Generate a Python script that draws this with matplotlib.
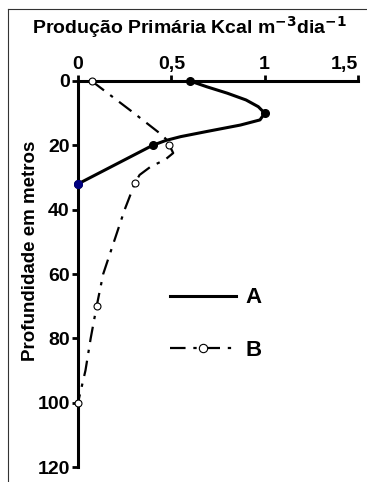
import matplotlib
matplotlib.use("Agg")
import matplotlib.pyplot as plt
from matplotlib.lines import Line2D

plt.rcParams['font.family'] = ['Liberation Sans', 'DejaVu Sans']
plt.rcParams['font.weight'] = 'bold'

a_prod = [0.60, 0.69, 0.80, 0.90, 0.966, 1.00, 0.975, 0.87, 0.69, 0.55, 0.47, 0.40, 0.0]
a_prof = [0, 1.8, 3.8, 5.9, 8.0, 10, 12.1, 13.7, 15.7, 17.3, 18.5, 20, 32]
a_marks = [0, 5, 11, 12]

# serie B
b_prod = [0.073, 0.30, 0.45, 0.475, 0.49, 0.51, 0.466, 0.39, 0.33, 0.305,
          0.27, 0.25, 0.135, 0.10, 0.068, 0.04, 0.0]
b_prof = [0, 10, 16.8, 18.3, 20, 22.4, 24.5, 26.6, 29.2, 31.7,
          37, 40, 60, 70, 80, 90, 100]
b_marks = [0, 4, 9, 13, 16]

xticks = [0, 0.5, 1, 1.5]
xticklabels = ['0', '0,5', '1', '1,5']
yticks = [0, 20, 40, 60, 80, 100, 120]

fig = plt.figure(figsize=(3.67, 4.82), dpi=100)
ax = fig.add_axes([0.2125, 0.031, 0.763, 0.801])

dash_b = (0, (7, 3.5, 1.5, 3.5))

ax.plot(a_prod, a_prof, color='black', lw=2.2, marker='o', markevery=a_marks,
        ms=5.5, mfc='black', mec='black', zorder=3, clip_on=False)
ax.plot([a_prod[-1]], [a_prof[-1]], 'o', ms=5.5, color='#000080', zorder=4, clip_on=False)
ax.plot(b_prod, b_prof, color='black', lw=1.6, linestyle=dash_b, marker='o',
        markevery=b_marks, ms=5, mfc='white', mec='black', mew=0.8, zorder=3, clip_on=False)

ax.set_xlim(0, 1.5)
ax.set_ylim(120, 0)
ax.xaxis.tick_top()
ax.set_xticks(xticks)
ax.set_xticklabels(xticklabels)
ax.set_yticks(yticks)
ax.tick_params(axis='both', labelsize=14, width=2, length=4, pad=2)
for lbl in ax.get_xticklabels() + ax.get_yticklabels():
    lbl.set_fontweight('bold')
ax.get_xticklabels()[-1].set_horizontalalignment('right')
ax.get_xticklabels()[-1].set_x(1.5)
ax.spines['right'].set_visible(False)
ax.spines['bottom'].set_visible(False)
ax.spines['top'].set_linewidth(2.2)
ax.spines['left'].set_linewidth(2.2)

ax.set_ylabel('Profundidade em metros', fontsize=13.5, fontweight='bold')
ax.yaxis.set_label_coords(-0.14, 0.56)
fig.text(0.515, 0.944, 'Produção Primária Kcal m$^{\\mathbf{-3}}$dia$^{\\mathbf{-1}}$',
         ha='center', va='center', fontsize=14, fontweight='bold')

handles = [Line2D([], [], color='black', lw=2.2),
           Line2D([], [], color='black', lw=1.6, linestyle=dash_b, marker='o',
                  ms=6, mfc='white', mec='black', mew=0.8)]
ax.legend(handles, ['A', 'B'], loc='center left', bbox_to_anchor=(0.256, 0.370),
          frameon=False, handlelength=3.0, labelspacing=1.43,
          handletextpad=0.4, prop={'weight': 'bold', 'size': 16})

# outer frame (left and top edges)
fig.add_artist(Line2D([0.022, 0.022], [0, 0.981], color='#333333', lw=0.8))
fig.add_artist(Line2D([0.022, 1.0], [0.981, 0.981], color='#333333', lw=0.8))

fig.savefig('out.png', dpi=100)
